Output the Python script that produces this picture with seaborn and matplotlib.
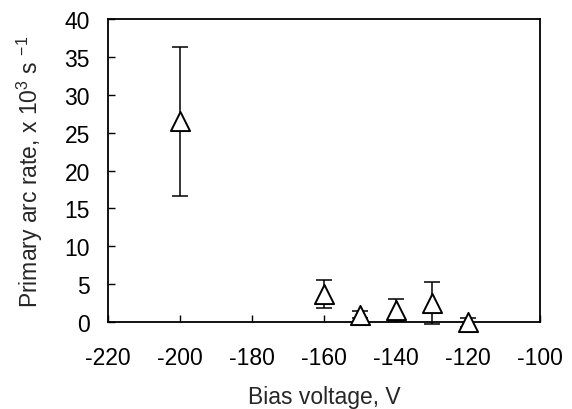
import matplotlib
matplotlib.use("Agg")
import matplotlib.pyplot as plt
import seaborn as sns
import pandas as pd

bias_voltage = [-200, -160, -150, -140, -130, -120]
arc_rate = [26.5, 3.7, 1.0, 1.6, 2.5, 0.0]
arc_err = [9.8, 1.8, 0.5, 1.4, 2.8, 0.6]

df = pd.DataFrame({"V": bias_voltage, "rate": arc_rate, "err": arc_err})

sns.set_style("white")
plt.rcParams['font.family'] = ['Liberation Sans', 'DejaVu Sans']
plt.rcParams['mathtext.fontset'] = 'custom'
plt.rcParams['mathtext.rm'] = 'Liberation Sans'
plt.rcParams['mathtext.it'] = 'Liberation Sans'
plt.rcParams['axes.unicode_minus'] = False

fig = plt.figure(figsize=(5.72, 4.10), dpi=100)
ax = fig.add_axes([0.189, 0.212, 0.755, 0.739])

ax.errorbar(df["V"], df["rate"], yerr=df["err"], fmt='none', ecolor='black',
            elinewidth=1.1, capsize=5.5, capthick=1.1, clip_on=False, zorder=2)
sns.scatterplot(data=df, x="V", y="rate", marker='^', s=190, facecolor='white',
                edgecolor='black', linewidth=1.4, ax=ax, zorder=3, clip_on=False)

ax.set_xlim(-220, -100)
ax.set_ylim(0, 40)
ax.set_xticks(range(-220, -99, 20))
ax.set_yticks(range(0, 41, 5))
ax.tick_params(bottom=True, left=True, direction='in', length=5, width=1,
               labelsize=16.5, colors='black')
ax.tick_params(axis='x', pad=17)
ax.tick_params(axis='y', pad=13)
for s in ax.spines.values():
    s.set_color('black')
    s.set_linewidth(1.3)
ax.set_xlabel("Bias voltage, V", fontsize=16.5, labelpad=12)
ax.set_ylabel(r"Primary arc rate, x 10$^3$ s $^{-1}$", fontsize=16.5, labelpad=14)

fig.savefig("out.png", dpi=100)
